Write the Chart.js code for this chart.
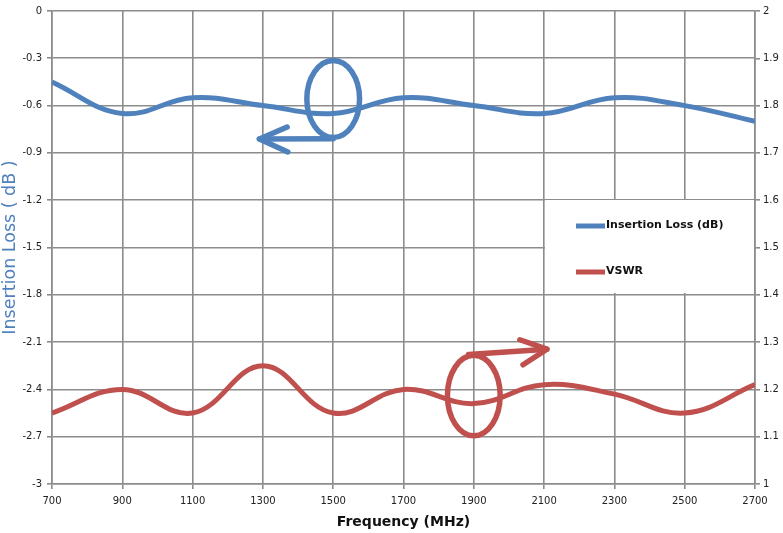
<!DOCTYPE html>
<html>
<head>
<meta charset="utf-8">
<script src="https://cdn.jsdelivr.net/npm/chart.js@4/dist/chart.umd.min.js"></script>
<style>
html,body{margin:0;padding:0;background:#fff;}
#wrap{width:783px;height:533px;}
</style>
</head>
<body>
<div id="wrap"><canvas id="c" width="783" height="533"></canvas></div>
<script>
// ---- data ----
const frequencies = [700, 900, 1100, 1300, 1500, 1700, 1900, 2100, 2300, 2500, 2700];
const insertionLoss = [-0.45, -0.65, -0.55, -0.60, -0.65, -0.55, -0.60, -0.65, -0.55, -0.60, -0.70];
const vswr = [1.15, 1.20, 1.15, 1.25, 1.15, 1.20, 1.17, 1.21, 1.19, 1.15, 1.21];
const seriesNames = ['Insertion Loss (dB)', 'VSWR'];
const xTicks = [700, 900, 1100, 1300, 1500, 1700, 1900, 2100, 2300, 2500, 2700];
const leftTicks = [0, -0.3, -0.6, -0.9, -1.2, -1.5, -1.8, -2.1, -2.4, -2.7, -3];
const rightTicks = [2, 1.9, 1.8, 1.7, 1.6, 1.5, 1.4, 1.3, 1.2, 1.1, 1];
// annotation shapes (data units): ellipse centre + radii, arrow tail/tip/arms
const blueMark = {cx: 1500, cy: -0.558, rx: 75, ry: 0.244, tail: [1500, -0.81], tip: [1290, -0.812], arm1: [1369, -0.736], arm2: [1371, -0.894]};
const redMark = {cx: 1900, cy: 1.187, rx: 75, ry: 0.085, tail: [1885, 1.274], tip: [2108, 1.285], arm1: [2031, 1.305], arm2: [2040, 1.252]};

const BLUE = '#4F81BD', RED = '#C0504D', GRID = '#8c8c8c';

const fmt = v => String(Number(v.toFixed(1)));

const annot = {
  id: 'annot',
  afterDatasetsDraw(chart) {
    const ctx = chart.ctx, x = chart.scales.x, yl = chart.scales.yL, yr = chart.scales.yR;
    function mark(m, ys, color) {
      ctx.save();
      ctx.strokeStyle = color; ctx.lineWidth = 5.5; ctx.lineCap = 'round'; ctx.lineJoin = 'round';
      const cx = x.getPixelForValue(m.cx), cy = ys.getPixelForValue(m.cy);
      const rx = Math.abs(x.getPixelForValue(m.cx + m.rx) - cx);
      const ry = Math.abs(ys.getPixelForValue(m.cy + m.ry) - cy);
      ctx.beginPath(); ctx.ellipse(cx, cy, rx, ry, 0, 0, Math.PI * 2); ctx.stroke();
      const P = p => [x.getPixelForValue(p[0]), ys.getPixelForValue(p[1])];
      const t = P(m.tail), tp = P(m.tip), a1 = P(m.arm1), a2 = P(m.arm2);
      ctx.beginPath(); ctx.moveTo(t[0], t[1]); ctx.lineTo(tp[0], tp[1]); ctx.stroke();
      ctx.beginPath(); ctx.moveTo(a1[0], a1[1]); ctx.lineTo(tp[0], tp[1]); ctx.lineTo(a2[0], a2[1]); ctx.stroke();
      ctx.restore();
    }
    mark(blueMark, yl, BLUE);
    mark(redMark, yr, RED);
  },
  afterDraw(chart) {
    const ctx = chart.ctx, a = chart.chartArea;
    ctx.save();
    const bx = 545, by = 200, bw = a.right - 545 - 1, bh = 93;
    ctx.fillStyle = '#fff';
    ctx.fillRect(bx, by, bw, bh);
    const rows = [[seriesNames[0], BLUE, 225], [seriesNames[1], RED, 271]];
    ctx.font = 'bold 11px "DejaVu Sans"';
    ctx.textBaseline = 'middle';
    rows.forEach(r => {
      ctx.strokeStyle = r[1]; ctx.lineWidth = 5; ctx.lineCap = 'butt';
      ctx.beginPath(); ctx.moveTo(576, r[2] + 1); ctx.lineTo(605, r[2] + 1); ctx.stroke();
      ctx.fillStyle = '#111';
      ctx.fillText(r[0], 606, r[2]);
    });
    ctx.restore();
  }
};

new Chart(document.getElementById('c'), {
  type: 'line',
  data: {
    datasets: [
      {label: seriesNames[0], data: frequencies.map((f, i) => ({x: f, y: insertionLoss[i]})), yAxisID: 'yL',
       borderColor: BLUE, borderWidth: 5, pointRadius: 0, tension: 0.4, fill: false},
      {label: seriesNames[1], data: frequencies.map((f, i) => ({x: f, y: vswr[i]})), yAxisID: 'yR',
       borderColor: RED, borderWidth: 5, pointRadius: 0, tension: 0.4, fill: false}
    ]
  },
  options: {
    responsive: false, animation: false, devicePixelRatio: 1,
    layout: {padding: {top: 11, left: 0, right: 0, bottom: 0}},
    plugins: {legend: {display: false}, tooltip: {enabled: false}},
    scales: {
      x: {
        type: 'linear', min: xTicks[0], max: xTicks[xTicks.length - 1],
        afterBuildTicks: s => { s.ticks = xTicks.map(v => ({value: v})); },
        afterFit: s => { s.height = 49; },
        grid: {color: GRID, lineWidth: 1.6, tickLength: 5},
        border: {color: GRID, width: 1.6},
        ticks: {color: '#222', font: {family: 'DejaVu Sans', size: 10}, padding: 6, maxRotation: 0, callback: v => String(v)},
        title: {display: true, text: 'Frequency (MHz)', color: '#111', font: {family: 'DejaVu Sans', size: 14, weight: 'bold'}, padding: {top: 0, bottom: 2}}
      },
      yL: {
        position: 'left', min: -3, max: 0,
        afterBuildTicks: s => { s.ticks = leftTicks.map(v => ({value: v})); },
        afterFit: s => { s.width = 52; },
        grid: {color: GRID, lineWidth: 1.6, tickLength: 5},
        border: {color: GRID, width: 1.6},
        ticks: {color: '#222', font: {family: 'DejaVu Sans', size: 10}, padding: 5, callback: v => fmt(v)},
        title: {display: true, text: 'Insertion Loss ( dB )', color: BLUE, font: {family: 'DejaVu Sans', size: 17.5}, padding: {top: 0, bottom: 0}}
      },
      yR: {
        position: 'right', min: 1, max: 2,
        afterBuildTicks: s => { s.ticks = rightTicks.map(v => ({value: v})); },
        afterFit: s => { s.width = 28; },
        grid: {drawOnChartArea: false, color: GRID, lineWidth: 1.6, tickLength: 5},
        border: {color: GRID, width: 1.6},
        ticks: {color: '#222', font: {family: 'DejaVu Sans', size: 10}, padding: 3, callback: v => fmt(v)}
      }
    }
  },
  plugins: [annot]
});
</script>
</body>
</html>
